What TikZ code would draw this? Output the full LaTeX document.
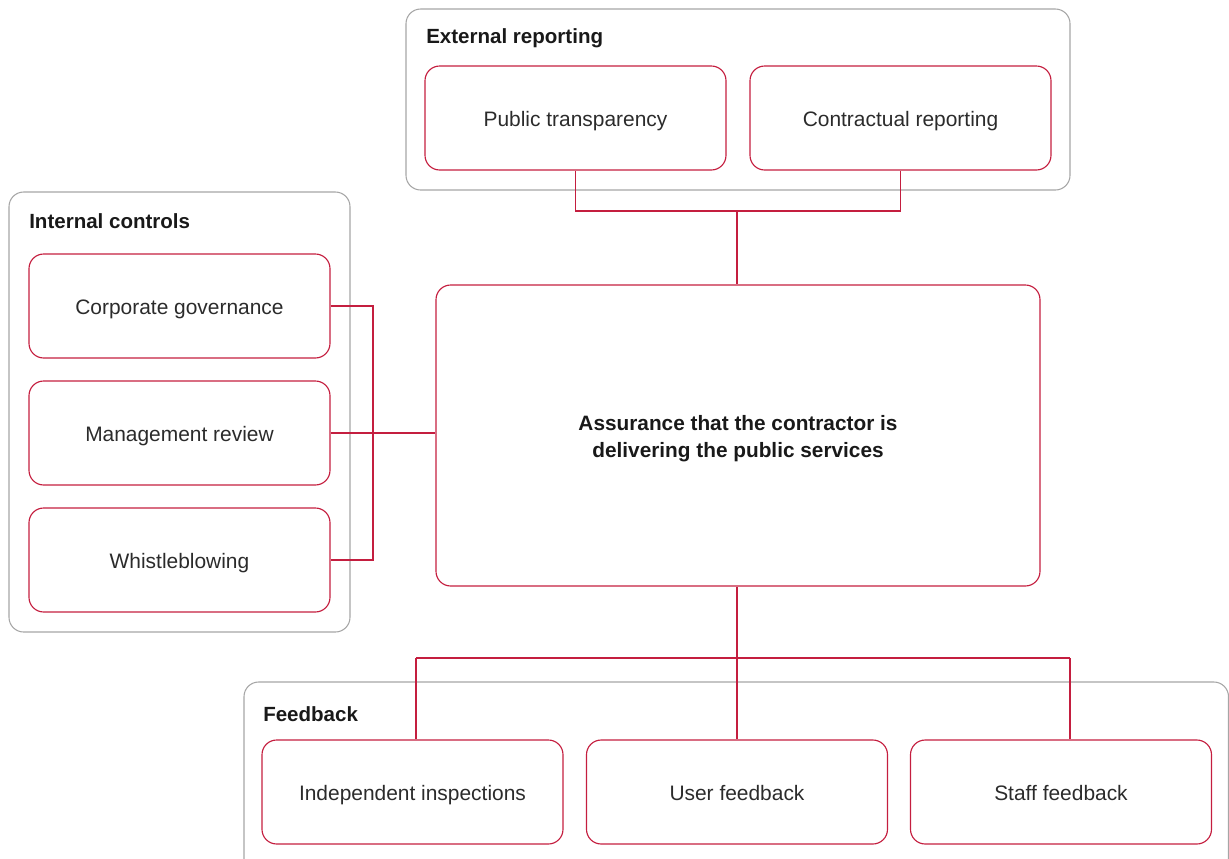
\documentclass[tikz,border=0pt]{standalone}
\usepackage{fontspec}
\setmainfont{Liberation Sans}
\begin{document}
\def\pxu{0.75pt}
\begin{tikzpicture}[x=0.75pt,y=-0.75pt,
  crimson/.style={draw=linkred,line width=0.85pt},
  groupbox/.style={draw=framegrey,line width=0.8pt,rounded corners=11pt},
  item/.style={crimson,rounded corners=11pt,minimum width=301*\pxu,minimum height=104*\pxu,
    inner sep=0pt,font=\fontsize{15.7}{18}\selectfont,text=textgrey,
    text height=1.25em,text depth=0.02em},
  grouptitle/.style={anchor=west,inner sep=0pt,font=\fontsize{15.4}{18}\selectfont\bfseries,text=black!90},
  link/.style={crimson}]
\definecolor{linkred}{HTML}{C41E3F}
\definecolor{framegrey}{HTML}{A6A6A6}
\definecolor{textgrey}{HTML}{2B2B2B}
\useasboundingbox (0,0) rectangle (1229,858);

% group frames
\draw[groupbox] (406,9) rectangle (1070,190);
\draw[groupbox] (9,192) rectangle (350,632);
\draw[groupbox] (244,682) rectangle (1228.5,880);

\node[grouptitle] (ert) at (426,38) {External reporting};
\node[grouptitle] (ict) at (29,221) {Internal controls};
\node[grouptitle] (fbt) at (263,714) {Feedback};

% external reporting
\node[item] (pt) at (575.5,118) {Public transparency};
\node[item] (cr) at (900.5,118) {Contractual reporting};

% internal controls
\node[item] (cg) at (179.5,306) {Corporate governance};
\node[item] (mr) at (179.5,433) {Management review};
\node[item] (wb) at (179.5,560) {Whistleblowing};

% central statement
\node[crimson,rounded corners=11pt,minimum width=604*\pxu,minimum height=301*\pxu,inner sep=0pt]
  (main) at (738,435.5) {};
\node[align=center,font=\fontsize{15.6}{20.5}\selectfont\bfseries,text=black!90,inner sep=0pt]
  (mtxt) at (main.center) [yshift=-2.2pt] {Assurance that the contractor is\\delivering the public services};

% feedback
\node[item] (ii) at (412.5,792) {Independent inspections};
\node[item] (uf) at (737,792) {User feedback};
\node[item] (sf) at (1061,792) {Staff feedback};

% connectors
\coordinate (ej) at (737,211);
\draw[link] (pt.south) |- (ej) -| (cr.south);
\draw[link] (ej) -- (ej |- main.north);

\coordinate (ij) at (373,306);
\draw[link] (cg.east) -- (ij) |- (wb.east);
\draw[link] (mr.east) -- (mr.east -| main.west);

\coordinate (fl) at (416,658);
\coordinate (fr) at (1070,658);
\draw[link] (main.south -| uf.north) -- (uf.north);
\draw[link] (fl) -- (fr);
\draw[link] (fl) -- (fl |- ii.north);
\draw[link] (fr) -- (fr |- sf.north);
\end{tikzpicture}
\end{document}
